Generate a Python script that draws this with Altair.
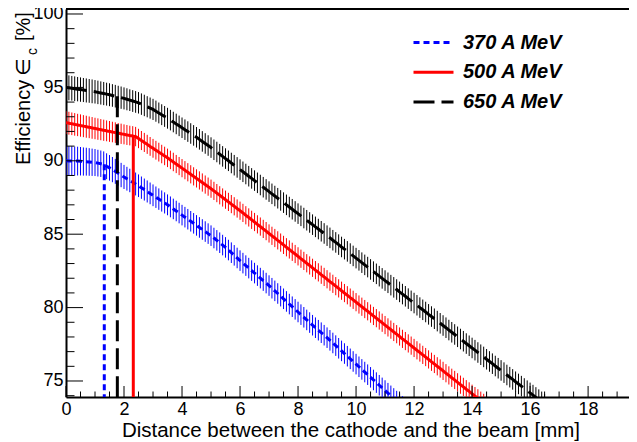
import altair as alt
import pandas as pd

# ---------------- data ----------------
ENERGIES = ["370 A MeV", "500 A MeV", "650 A MeV"]
COLORS = ["#0000ff", "#ff0000", "#000000"]
DASHES = [[6, 4], [1, 0], [21, 7]]

STEP = 0.1  # spacing of the measured points along x [mm]

EFF_370 = [
    90.00, 89.99, 89.99, 89.98, 89.98, 89.97, 89.95, 89.94, 89.92, 89.90,
    89.88, 89.84, 89.80, 89.75, 89.63, 89.52, 89.40, 89.28, 89.15, 89.03,
    88.90, 88.78, 88.66, 88.54, 88.42, 88.30, 88.17, 88.04, 87.91, 87.78,
    87.65, 87.52, 87.39, 87.26, 87.13, 87.00, 86.86, 86.72, 86.58, 86.44,
    86.30, 86.16, 86.02, 85.88, 85.74, 85.60, 85.46, 85.32, 85.18, 85.04,
    84.90, 84.74, 84.58, 84.42, 84.26, 84.10, 83.92, 83.74, 83.56, 83.38,
    83.20, 83.03, 82.86, 82.69, 82.52, 82.35, 82.18, 82.01, 81.84, 81.67,
    81.50, 81.32, 81.14, 80.96, 80.78, 80.60, 80.42, 80.24, 80.06, 79.88,
    79.70, 79.52, 79.34, 79.16, 78.98, 78.80, 78.63, 78.46, 78.29, 78.12,
    77.95, 77.77, 77.59, 77.41, 77.23, 77.05, 76.87, 76.69, 76.51, 76.33,
    76.15, 75.97, 75.79, 75.61, 75.43, 75.25, 75.07, 74.89, 74.71, 74.53,
    74.35, 74.17, 73.99, 73.81, 73.63, 73.45, 73.27, 73.09, 72.91,
]
ERR_370 = [
    1.02, 1.01, 1.00, 0.99, 0.98, 0.97, 0.96, 0.95, 0.94, 0.93,
    0.92, 0.91, 0.90, 0.89, 0.88, 0.87, 0.86, 0.85, 0.84, 0.83,
    0.82, 0.81, 0.80, 0.79, 0.78, 0.77, 0.76, 0.75, 0.75, 0.74,
    0.74, 0.73, 0.73, 0.72, 0.72, 0.71, 0.71, 0.70, 0.70, 0.70,
    0.70, 0.70, 0.70, 0.70, 0.70, 0.70, 0.70, 0.70, 0.70, 0.70,
    0.70, 0.70, 0.70, 0.70, 0.70, 0.70, 0.70, 0.70, 0.70, 0.70,
    0.70, 0.70, 0.70, 0.70, 0.70, 0.70, 0.70, 0.70, 0.70, 0.70,
    0.70, 0.70, 0.70, 0.70, 0.70, 0.70, 0.70, 0.70, 0.70, 0.70,
    0.70, 0.70, 0.70, 0.70, 0.70, 0.70, 0.70, 0.70, 0.70, 0.70,
    0.70, 0.70, 0.70, 0.70, 0.70, 0.70, 0.70, 0.70, 0.70, 0.70,
    0.70, 0.70, 0.70, 0.70, 0.70, 0.70, 0.70, 0.70, 0.70, 0.70,
    0.70, 0.70, 0.70, 0.70, 0.70, 0.70, 0.70, 0.70, 0.70,
]

EFF_500 = [
    92.60, 92.56, 92.52, 92.48, 92.44, 92.40, 92.36, 92.32, 92.28, 92.24,
    92.20, 92.16, 92.12, 92.08, 92.04, 92.00, 91.96, 91.92, 91.88, 91.84,
    91.80, 91.76, 91.72, 91.69, 91.65, 91.52, 91.38, 91.25, 91.12, 90.98,
    90.85, 90.72, 90.59, 90.46, 90.33, 90.20, 90.06, 89.92, 89.78, 89.64,
    89.50, 89.36, 89.22, 89.08, 88.94, 88.80, 88.66, 88.52, 88.38, 88.24,
    88.10, 87.95, 87.80, 87.65, 87.50, 87.35, 87.20, 87.05, 86.90, 86.75,
    86.60, 86.45, 86.29, 86.14, 85.98, 85.83, 85.67, 85.52, 85.36, 85.21,
    85.05, 84.89, 84.74, 84.58, 84.43, 84.27, 84.11, 83.96, 83.80, 83.65,
    83.49, 83.33, 83.18, 83.02, 82.87, 82.71, 82.55, 82.40, 82.24, 82.09,
    81.93, 81.77, 81.62, 81.46, 81.31, 81.15, 80.99, 80.84, 80.68, 80.53,
    80.37, 80.21, 80.06, 79.90, 79.75, 79.59, 79.43, 79.28, 79.12, 78.97,
    78.81, 78.65, 78.50, 78.34, 78.19, 78.03, 77.87, 77.72, 77.56, 77.41,
    77.25, 77.09, 76.94, 76.78, 76.63, 76.47, 76.31, 76.16, 76.00, 75.85,
    75.69, 75.53, 75.38, 75.22, 75.07, 74.91, 74.75, 74.60, 74.44, 74.29,
    74.13, 73.97, 73.82, 73.66, 73.51, 73.35, 73.19,
]
ERR_500 = [
    0.78, 0.78, 0.77, 0.77, 0.76, 0.76, 0.75, 0.75, 0.74, 0.74,
    0.73, 0.73, 0.72, 0.72, 0.71, 0.71, 0.70, 0.70, 0.69, 0.69,
    0.68, 0.68, 0.67, 0.67, 0.66, 0.66, 0.65, 0.65, 0.65, 0.64,
    0.64, 0.64, 0.64, 0.63, 0.63, 0.63, 0.63, 0.63, 0.62, 0.62,
    0.62, 0.62, 0.62, 0.62, 0.62, 0.62, 0.62, 0.62, 0.62, 0.62,
    0.62, 0.62, 0.62, 0.62, 0.62, 0.62, 0.62, 0.62, 0.62, 0.62,
    0.62, 0.62, 0.62, 0.62, 0.62, 0.62, 0.62, 0.62, 0.62, 0.62,
    0.62, 0.62, 0.62, 0.62, 0.62, 0.62, 0.62, 0.62, 0.62, 0.62,
    0.62, 0.62, 0.62, 0.62, 0.62, 0.62, 0.62, 0.62, 0.62, 0.62,
    0.62, 0.62, 0.62, 0.62, 0.62, 0.62, 0.62, 0.62, 0.62, 0.62,
    0.62, 0.62, 0.62, 0.62, 0.62, 0.62, 0.62, 0.62, 0.62, 0.62,
    0.62, 0.62, 0.62, 0.62, 0.62, 0.62, 0.62, 0.62, 0.62, 0.62,
    0.62, 0.62, 0.62, 0.62, 0.62, 0.62, 0.62, 0.62, 0.62, 0.62,
    0.62, 0.62, 0.62, 0.62, 0.62, 0.62, 0.62, 0.62, 0.62, 0.62,
    0.62, 0.62, 0.62, 0.62, 0.62, 0.62, 0.62,
]

EFF_650 = [
    95.00, 94.97, 94.94, 94.91, 94.88, 94.85, 94.82, 94.79, 94.76, 94.73,
    94.70, 94.66, 94.62, 94.58, 94.54, 94.50, 94.45, 94.40, 94.35, 94.30,
    94.25, 94.19, 94.13, 94.07, 94.01, 93.95, 93.86, 93.77, 93.68, 93.59,
    93.50, 93.38, 93.26, 93.14, 93.02, 92.90, 92.77, 92.64, 92.51, 92.38,
    92.25, 92.12, 91.99, 91.86, 91.73, 91.60, 91.46, 91.32, 91.18, 91.04,
    90.90, 90.75, 90.60, 90.45, 90.30, 90.15, 90.00, 89.85, 89.70, 89.55,
    89.40, 89.25, 89.10, 88.95, 88.80, 88.65, 88.50, 88.35, 88.20, 88.05,
    87.90, 87.75, 87.60, 87.45, 87.30, 87.15, 87.00, 86.85, 86.70, 86.55,
    86.40, 86.25, 86.10, 85.95, 85.80, 85.65, 85.50, 85.35, 85.20, 85.05,
    84.90, 84.75, 84.59, 84.44, 84.29, 84.13, 83.98, 83.83, 83.68, 83.52,
    83.37, 83.22, 83.06, 82.91, 82.76, 82.60, 82.45, 82.30, 82.14, 81.99,
    81.84, 81.69, 81.53, 81.38, 81.23, 81.07, 80.92, 80.77, 80.61, 80.46,
    80.31, 80.16, 80.00, 79.85, 79.70, 79.54, 79.39, 79.24, 79.08, 78.93,
    78.78, 78.63, 78.47, 78.32, 78.17, 78.01, 77.86, 77.71, 77.55, 77.40,
    77.25, 77.10, 76.94, 76.79, 76.64, 76.48, 76.33, 76.18, 76.02, 75.87,
    75.72, 75.57, 75.41, 75.26, 75.11, 74.95, 74.80, 74.65, 74.49, 74.34,
    74.19, 74.04, 73.88, 73.73, 73.58, 73.42,
]
ERR_650 = [
    0.85, 0.85, 0.84, 0.84, 0.83, 0.83, 0.82, 0.82, 0.81, 0.81,
    0.80, 0.80, 0.79, 0.79, 0.78, 0.78, 0.77, 0.77, 0.76, 0.76,
    0.75, 0.75, 0.74, 0.74, 0.74, 0.73, 0.73, 0.73, 0.72, 0.72,
    0.72, 0.72, 0.71, 0.71, 0.71, 0.71, 0.70, 0.70, 0.70, 0.70,
    0.70, 0.70, 0.70, 0.70, 0.70, 0.70, 0.70, 0.70, 0.70, 0.70,
    0.70, 0.70, 0.70, 0.70, 0.70, 0.70, 0.70, 0.70, 0.70, 0.70,
    0.70, 0.70, 0.70, 0.70, 0.70, 0.70, 0.70, 0.70, 0.70, 0.70,
    0.70, 0.70, 0.70, 0.70, 0.70, 0.70, 0.70, 0.70, 0.70, 0.70,
    0.70, 0.70, 0.70, 0.70, 0.70, 0.70, 0.70, 0.70, 0.70, 0.70,
    0.70, 0.70, 0.70, 0.70, 0.70, 0.70, 0.70, 0.70, 0.70, 0.70,
    0.70, 0.70, 0.70, 0.70, 0.70, 0.70, 0.70, 0.70, 0.70, 0.70,
    0.70, 0.70, 0.70, 0.70, 0.70, 0.70, 0.70, 0.70, 0.70, 0.70,
    0.70, 0.70, 0.70, 0.70, 0.70, 0.70, 0.70, 0.70, 0.70, 0.70,
    0.70, 0.70, 0.70, 0.70, 0.70, 0.70, 0.70, 0.70, 0.70, 0.70,
    0.70, 0.70, 0.70, 0.70, 0.70, 0.70, 0.70, 0.70, 0.70, 0.70,
    0.70, 0.70, 0.70, 0.70, 0.70, 0.70, 0.70, 0.70, 0.70, 0.70,
    0.70, 0.70, 0.70, 0.70, 0.70, 0.70,
]

# vertical marker lines (x position, efficiency where they start)
DROP_X = [1.32, 2.32, 1.77]
DROP_Y = [89.76, 91.68, 94.40]

X_LABELS = [0, 2, 4, 6, 8, 10, 12, 14, 16, 18]
X_MINOR = [0.5, 1.0, 1.5, 2.5, 3.0, 3.5, 4.5, 5.0, 5.5, 6.5, 7.0, 7.5, 8.5, 9.0, 9.5,
           10.5, 11.0, 11.5, 12.5, 13.0, 13.5, 14.5, 15.0, 15.5, 16.5, 17.0, 17.5,
           18.5, 19.0]
Y_LABELS = [75, 80, 85, 90, 95, 100]
Y_MINOR = [74, 76, 77, 78, 79, 81, 82, 83, 84, 86, 87, 88, 89, 91, 92, 93, 94,
           96, 97, 98, 99]

X_DOMAIN = [0, 19.41]
Y_DOMAIN = [73.91, 100.34]

X_TITLE = "Distance between the cathode and the beam [mm]"
Y_TITLE_PARTS = ["Efficiency", "\u2208", "c", "[%]"]

# ---------------- tables ----------------
rows = []
for name, effs, errs in zip(ENERGIES, [EFF_370, EFF_500, EFF_650], [ERR_370, ERR_500, ERR_650]):
    for i, (v, e) in enumerate(zip(effs, errs)):
        rows.append({"energy": name, "x": round(i * STEP, 2), "eff": v, "lo": v - e, "hi": v + e})
df = pd.DataFrame(rows)
df_drop = pd.DataFrame({"energy": ENERGIES, "x": DROP_X, "eff": DROP_Y})

W, H = 563, 388
FONT = "Liberation Sans, DejaVu Sans"

xscale = alt.Scale(domain=X_DOMAIN, nice=False, zero=False)
yscale = alt.Scale(domain=Y_DOMAIN, nice=False, zero=False)

X_AXIS = alt.Axis(values=X_LABELS, title=None, ticks=False, tickSize=0, grid=False,
                  labelFont=FONT, labelFontSize=18, labelColor="black", labelPadding=3,
                  domainColor="black", domainWidth=2, format="d", labelFlush=False)
Y_AXIS = alt.Axis(values=Y_LABELS, title=None, ticks=False, tickSize=0, grid=False,
                  labelFont=FONT, labelFontSize=18, labelColor="black", labelPadding=3,
                  domainColor="black", domainWidth=2, format="d", labelFlush=False)

LEGEND = alt.Legend(title=None, orient="none", legendX=356, legendY=22,
                    symbolType="M-2,0L2,0", symbolSize=400, symbolStrokeWidth=3,
                    labelFont=FONT, labelFontSize=20, labelFontStyle="italic",
                    labelFontWeight="bold", labelColor="black", labelOffset=18,
                    rowPadding=7.7, padding=0)

COLOR = alt.Color("energy:N", scale=alt.Scale(domain=ENERGIES, range=COLORS), legend=LEGEND)
DASH = alt.StrokeDash("energy:N", scale=alt.Scale(domain=ENERGIES, range=DASHES), legend=LEGEND)

X = alt.X("x:Q", scale=xscale, axis=X_AXIS)

bars = alt.Chart(df).mark_rule(strokeWidth=1, clip=True).encode(
    x=X, y=alt.Y("lo:Q", scale=yscale, axis=Y_AXIS), y2="hi:Q", color=COLOR)

lines = alt.Chart(df).mark_line(strokeWidth=3, clip=True).encode(
    x=X, y=alt.Y("eff:Q", scale=yscale, axis=Y_AXIS), color=COLOR, strokeDash=DASH,
    order="x:Q")

drops = alt.Chart(df_drop).mark_rule(strokeWidth=3, clip=True).encode(
    x=X, y=alt.Y("eff:Q", scale=yscale, axis=Y_AXIS), y2=alt.value(H),
    color=COLOR, strokeDash=DASH)

# inward ticks (ROOT style)
xmaj = alt.Chart(pd.DataFrame({"x": X_LABELS})).mark_rule(color="black", strokeWidth=1).encode(
    x=X, y=alt.value(H), y2=alt.value(H - 11))
xmin = alt.Chart(pd.DataFrame({"x": X_MINOR})).mark_rule(color="black", strokeWidth=1, clip=True).encode(
    x=X, y=alt.value(H), y2=alt.value(H - 5.5))
ymaj = alt.Chart(pd.DataFrame({"y": Y_LABELS})).mark_rule(color="black", strokeWidth=1).encode(
    y=alt.Y("y:Q", scale=yscale, axis=Y_AXIS), x=alt.value(0), x2=alt.value(17))
ymin = alt.Chart(pd.DataFrame({"y": Y_MINOR})).mark_rule(color="black", strokeWidth=1).encode(
    y=alt.Y("y:Q", scale=yscale, axis=Y_AXIS), x=alt.value(0), x2=alt.value(8.5))

# top frame line
frame_top = alt.Chart(pd.DataFrame({"k": [0]})).mark_rule(color="black", strokeWidth=2).encode(
    x=alt.value(0), x2=alt.value(W), y=alt.value(0))

# axis titles
def text_layer(s, size, x, y, angle=0, align="left"):
    return alt.Chart(pd.DataFrame({"t": [s]})).mark_text(
        font=FONT, fontSize=size, color="black", align=align, baseline="alphabetic",
        angle=angle).encode(x=alt.value(x), y=alt.value(y), text="t:N")

xtitle = text_layer(X_TITLE, 20.5, 514, 427.5, align="right")
yt1 = text_layer(Y_TITLE_PARTS[0], 20, -36, 156, angle=270)
yt2 = text_layer(Y_TITLE_PARTS[1], 20, -36, 67, angle=270)
yt3 = text_layer(Y_TITLE_PARTS[2], 14, -29, 46, angle=270)
yt4 = text_layer(Y_TITLE_PARTS[3], 20, -36, 32, angle=270)

chart = alt.layer(
    bars, lines, drops, xmaj, xmin, ymaj, ymin, frame_top, xtitle, yt1, yt2, yt3, yt4
).properties(
    width=W, height=H,
    autosize=alt.AutoSizeParams(type="none"),
    padding={"left": 58, "top": 1, "right": 0, "bottom": 45},
).configure_view(stroke=None).configure(background="white")

chart.save("out.html", embed_options={"renderer": "svg", "actions": False})
